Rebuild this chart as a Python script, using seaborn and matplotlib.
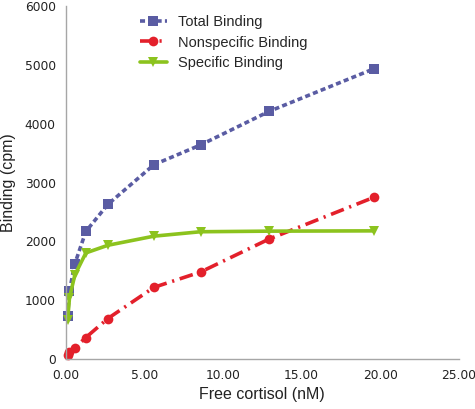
import numpy as np
import pandas as pd
import matplotlib
matplotlib.use("Agg")
import matplotlib.pyplot as plt
import seaborn as sns

# free cortisol (nM)
free_cortisol = [0.13, 0.25, 0.59, 1.29, 2.69, 5.62, 8.58, 12.93, 19.6]

total_binding = [730, 1160, 1620, 2170, 2630, 3305, 3640, 4210, 4935]
nonspecific_binding = [70, 120, 190, 367, 690, 1220, 1480, 2040, 2750]
specific_binding = [660, 1040, 1430, 1805, 1935, 2090, 2165, 2175, 2180]

x_ticks = [0, 5, 10, 15, 20, 25]
y_ticks = [0, 1000, 2000, 3000, 4000, 5000, 6000]

SERIES = [
    ("Total Binding", total_binding, "#5a5ca3", "s", (0, (1.4, 0.9))),
    ("Nonspecific Binding", nonspecific_binding, "#e3202b", "o", (0, (3.8, 1.6, 0.6, 1.6))),
    ("Specific Binding", specific_binding, "#8cc31e", "v", "-"),
]

sns.set_style("white")
plt.rcParams["font.family"] = ["DejaVu Sans"]

fig = plt.figure(figsize=(4.75, 4.09), dpi=100)
ax = fig.add_axes([0.138, 0.122, 0.828, 0.863])

for name, vals, color, marker, ls in SERIES:
    df = pd.DataFrame({"x": free_cortisol, "y": vals})
    sns.lineplot(data=df, x="x", y="y", ax=ax, color=color, marker=marker,
                 markersize=7, markeredgewidth=0, linewidth=2.6,
                 linestyle=ls, label=name, sort=False, clip_on=False)

ax.set_xlim(0, 25)
ax.set_ylim(0, 6000)
ax.set_xticks(x_ticks)
ax.set_xticklabels([f"{t:.2f}" for t in x_ticks])
ax.set_yticks(y_ticks)
ax.set_yticklabels([str(t) for t in y_ticks])

for s in ["top", "right"]:
    ax.spines[s].set_visible(False)
for s in ["left", "bottom"]:
    ax.spines[s].set_color("#a6a6a6")
    ax.spines[s].set_linewidth(1.0)
ax.tick_params(axis="both", direction="out", length=5, width=1,
               color="#a6a6a6", labelsize=8.8, labelcolor="#222222", pad=2)

ax.set_xlabel("Free cortisol (nM)", fontsize=11.5, family="Liberation Sans",
              color="#222222", labelpad=4)
ax.set_ylabel("Binding (cpm)", fontsize=11.5, family="Liberation Sans",
              color="#222222", labelpad=6)

leg = ax.legend(loc="upper left", bbox_to_anchor=(0.155, 1.012), frameon=False,
                prop={"family": "Liberation Sans", "size": 10.5},
                handlelength=1.9, handletextpad=0.7, labelspacing=0.45)

fig.savefig("out.png", dpi=100)
